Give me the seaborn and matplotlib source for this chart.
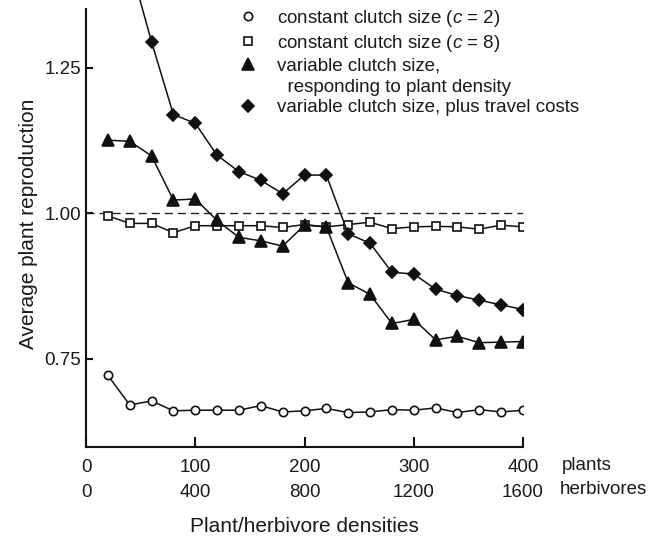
import numpy as np
import pandas as pd
import matplotlib
matplotlib.use("Agg")
import matplotlib.pyplot as plt
from matplotlib.lines import Line2D
import seaborn as sns

# ---- data ----
plants = [20, 40, 60, 80, 100, 120, 140, 160, 180, 200,
          220, 240, 260, 280, 300, 320, 340, 360, 380, 400]
const_c2 = [0.722, 0.671, 0.678, 0.661, 0.662, 0.662, 0.662, 0.670, 0.659, 0.661,
            0.665, 0.658, 0.659, 0.663, 0.662, 0.666, 0.658, 0.663, 0.659, 0.662]
const_c8 = [0.996, 0.983, 0.983, 0.967, 0.979, 0.979, 0.979, 0.979, 0.976, 0.981,
            0.977, 0.981, 0.985, 0.974, 0.977, 0.978, 0.977, 0.973, 0.980, 0.977]
variable = [1.126, 1.124, 1.099, 1.023, 1.025, 0.988, 0.959, 0.953, 0.944, 0.980,
            0.977, 0.881, 0.861, 0.811, 0.818, 0.783, 0.789, 0.778, 0.779, 0.780]
travel = [1.60, 1.43, 1.295, 1.170, 1.155, 1.100, 1.072, 1.057, 1.034, 1.066,
          1.066, 0.965, 0.949, 0.899, 0.896, 0.870, 0.859, 0.851, 0.843, 0.835]
plant_ticks = [0, 100, 200, 300, 400]
herb_ticks = [0, 400, 800, 1200, 1600]
y_ticks = [0.75, 1.00, 1.25]
labels = ["constant clutch size ($c$ = 2)",
          "constant clutch size ($c$ = 8)",
          "variable clutch size,",
          "  responding to plant density",
          "variable clutch size, plus travel costs"]

df = pd.DataFrame({"plants": plants, "c2": const_c2, "c8": const_c8,
                   "var": variable, "travel": travel})

sns.set_style("ticks")
plt.rcParams["font.family"] = ["Liberation Sans", "DejaVu Sans"]
plt.rcParams["mathtext.fontset"] = "custom"
plt.rcParams["mathtext.rm"] = "Liberation Sans"
plt.rcParams["mathtext.it"] = "Liberation Sans:italic"

FS = 13.5
FS_LAB = 15.0
TXT = "#1a1a1a"
fig = plt.figure(figsize=(6.61, 5.37), dpi=100)
ax = fig.add_axes([86 / 661, 1 - 447 / 537, (523 - 86) / 661, 447 / 537])

ax.axhline(1.0, color="#222222", lw=1.0, ls=(0, (5.8, 3.6)), zorder=1)

MS_O, MS_S, MS_T, MS_D = 6.0, 6.0, 8.0, 6.6
common = dict(color="#111111", linewidth=1.1, markeredgecolor="#111111",
              markeredgewidth=1.2, zorder=3)
sns.lineplot(data=df, x="plants", y="c2", marker="o", markersize=MS_O,
             markerfacecolor="white", ax=ax, **common)
sns.lineplot(data=df, x="plants", y="c8", marker="s", markersize=MS_S,
             markerfacecolor="white", ax=ax, **common)
sns.lineplot(data=df, x="plants", y="var", marker="^", markersize=MS_T,
             markerfacecolor="#111111", ax=ax, **common)
sns.lineplot(data=df, x="plants", y="travel", marker="D", markersize=MS_D,
             markerfacecolor="#111111", ax=ax, **common)

ax.set_xlim(0, 400)
ax.set_ylim(0.5988, 1.3668)
ax.spines["left"].set_bounds(0.5988, 1.351)
for s in ["top", "right"]:
    ax.spines[s].set_visible(False)
for s in ["left", "bottom"]:
    ax.spines[s].set_linewidth(1.5)
    ax.spines[s].set_color("#111111")

ax.set_yticks(y_ticks)
ax.set_yticklabels([f"{v:.2f}" for v in y_ticks])
ax.set_xticks(plant_ticks)
ax.set_xticklabels([f"{p}\n{h}" for p, h in zip(plant_ticks, herb_ticks)])
for t in ax.get_xticklabels():
    t.set_linespacing(1.6)
ax.tick_params(axis="x", direction="in", length=7, width=1.5, pad=8.8,
               labelsize=FS, colors="#111111", labelcolor=TXT)
ax.tick_params(axis="y", direction="in", length=5, width=1.5, pad=3.5,
               labelsize=FS, colors="#111111", labelcolor=TXT)

ax.set_xlabel("Plant/herbivore densities", fontsize=FS_LAB, color=TXT, labelpad=11.5)
ax.set_ylabel("Average plant reproduction", fontsize=FS_LAB, color=TXT, labelpad=4.5)

fig.text(562 / 661, 1 - 465 / 537, "plants", fontsize=FS, color=TXT, va="center", ha="left")
fig.text(560 / 661, 1 - 490 / 537, "herbivores", fontsize=FS, color=TXT, va="center", ha="left")

mk = dict(color="#111111", lw=0, markeredgecolor="#111111", markeredgewidth=1.2)
handles = [Line2D([], [], marker="o", markersize=MS_O, markerfacecolor="white", **mk),
           Line2D([], [], marker="s", markersize=MS_S, markerfacecolor="white", **mk),
           Line2D([], [], marker="^", markersize=MS_T, markerfacecolor="#111111", **mk),
           Line2D([], [], lw=0, marker=None),
           Line2D([], [], marker="D", markersize=MS_D, markerfacecolor="#111111", **mk)]
fs_px = FS / 72 * 100
leg = ax.legend(handles, labels, loc="upper left", frameon=False, fontsize=FS,
                handlelength=1.0, handletextpad=1.05, borderpad=0, borderaxespad=0,
                labelspacing=0.2,
                bbox_to_anchor=((248 - fs_px / 2) / 661, 1 - 8 / 537),
                bbox_transform=fig.transFigure)
for t in leg.get_texts():
    t.set_color(TXT)

fig.savefig("out.png", dpi=100)
